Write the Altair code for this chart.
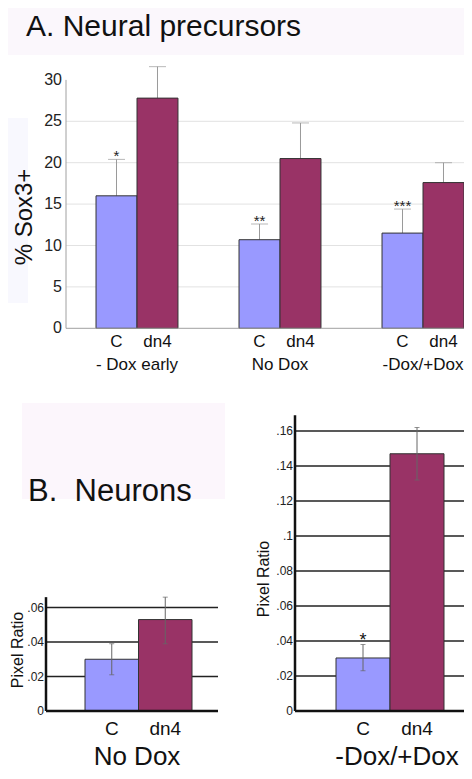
import altair as alt
import pandas as pd

FONT = "Liberation Sans, Arial, Helvetica, sans-serif"

# ---------------- data ----------------
conditions = ["C", "dn4"]
bar_colors = ["#9999ff", "#993366"]

# Panel A: Neural precursors (% Sox3+)
a_groups = ["- Dox early", "No Dox", "-Dox/+Dox"]
a_c_mean = [16.0, 10.7, 11.5]
a_c_err = [20.4, 12.6, 14.4]
a_dn4_mean = [27.8, 20.5, 17.6]
a_dn4_err = [31.6, 24.8, 20.0]
a_sig = ["*", "**", "***"]
a_ticks = [0, 5, 10, 15, 20, 25, 30]
a_grid = [5, 10, 15, 20, 25]

# Panel B: Neurons (pixel ratio)
b1_mean = [0.030, 0.053]
b1_lo = [0.021, 0.039]
b1_hi = [0.039, 0.066]
b1_ticks = [0, 0.02, 0.04, 0.06]
b1_labels = ["0", ".02", ".04", ".06"]

b2_mean = [0.0303, 0.147]
b2_lo = [0.023, 0.132]
b2_hi = [0.038, 0.162]
b2_sig = ["*", ""]
b2_ticks = [0, 0.02, 0.04, 0.06, 0.08, 0.10, 0.12, 0.14, 0.16]
b2_labels = ["0", ".02", ".04", ".06", ".08", ".1", ".12", ".14", ".16"]


def P(v):
    # page pixel -> chart pixel (8px page margin, zero padding)
    return v - 8


# ---------------- tables ----------------
a_df = pd.DataFrame({
    "group": a_groups * 2,
    "cond": ["C"] * 3 + ["dn4"] * 3,
    "mean": a_c_mean + a_dn4_mean,
    "err": a_c_err + a_dn4_err,
    "sig": a_sig + [""] * 3,
})
a_tick_df = pd.DataFrame({"v": a_ticks, "lab": [str(t) for t in a_ticks]})
a_grid_df = pd.DataFrame({"v": a_grid})
a_axis_df = pd.DataFrame({"lo": [0], "hi": [30]})

b1_df = pd.DataFrame({"cond": conditions, "mean": b1_mean, "lo": b1_lo, "hi": b1_hi})
b1_tick_df = pd.DataFrame({"v": b1_ticks, "lab": b1_labels})
b2_df = pd.DataFrame({"cond": conditions, "mean": b2_mean, "lo": b2_lo, "hi": b2_hi, "sig": b2_sig})
b2_tick_df = pd.DataFrame({"v": b2_ticks, "lab": b2_labels})

color = alt.Color("cond:N", scale=alt.Scale(domain=conditions, range=bar_colors), legend=None)

# ---------------- panel A ----------------
ya = alt.Scale(domain=[0, 30], range=[P(328.3), P(79.9)], nice=False, zero=True)
xa = alt.Scale(domain=a_groups, range=[P(65.5), P(494.5)], paddingInner=0.427, paddingOuter=0.2135)
xoff = alt.Scale(domain=conditions, paddingInner=0, paddingOuter=0)

X_A = alt.X("group:N", scale=xa, axis=None, sort=a_groups)
XO_A = alt.XOffset("cond:N", scale=xoff, sort=conditions)

a_grid_l = alt.Chart(a_grid_df).mark_rule(color="#e2e2e2", strokeWidth=1).encode(
    y=alt.Y("v:Q", scale=ya, axis=None), x=alt.value(P(66)), x2=alt.value(P(472)))
a_vaxis = alt.Chart(a_axis_df).mark_rule(color="#a0a0a0", strokeWidth=1).encode(
    y=alt.Y("lo:Q", scale=ya, axis=None), y2="hi:Q", x=alt.value(P(66)))
a_haxis = alt.Chart(a_axis_df).mark_rule(color="#a0a0a0", strokeWidth=1).encode(
    y=alt.Y("lo:Q", scale=ya, axis=None), x=alt.value(P(66)), x2=alt.value(P(472)))
a_labels = alt.Chart(a_tick_df).mark_text(align="right", baseline="middle", fontSize=16,
                                          color="#222", font=FONT).encode(
    y=alt.Y("v:Q", scale=ya, axis=None), x=alt.value(P(62)), text="lab:N")
a_err = alt.Chart(a_df).mark_rule(color="#9a9a9a", strokeWidth=1).encode(
    x=X_A, xOffset=XO_A, y=alt.Y("mean:Q", scale=ya, axis=None), y2="err:Q")
a_cap = alt.Chart(a_df).mark_tick(orient="horizontal", size=17, thickness=1, color="#9a9a9a").encode(
    x=X_A, xOffset=XO_A, y=alt.Y("err:Q", scale=ya, axis=None))
a_bars = alt.Chart(a_df).mark_bar(stroke="#333", strokeWidth=1).encode(
    x=X_A, xOffset=XO_A, y=alt.Y("mean:Q", scale=ya, axis=None), color=color)
a_star = alt.Chart(a_df).mark_text(fontSize=15, baseline="alphabetic", dy=2, color="#222",
                                   font=FONT).encode(
    x=X_A, xOffset=XO_A, y=alt.Y("err:Q", scale=ya, axis=None), text="sig:N")
a_cond = alt.Chart(a_df).mark_text(fontSize=17, baseline="alphabetic", color="#111", font=FONT).encode(
    x=X_A, xOffset=XO_A, y=alt.value(P(347)), text="cond:N")
a_grp = alt.Chart(a_df[a_df["cond"] == "C"]).mark_text(fontSize=17, baseline="alphabetic",
                                                       color="#111", font=FONT).encode(
    x=X_A, y=alt.value(P(370)), text="group:N")

panelA = alt.layer(a_grid_l, a_err, a_cap, a_bars, a_vaxis, a_haxis, a_labels, a_star, a_cond, a_grp)

# ---------------- panel B, No Dox ----------------
yb1 = alt.Scale(domain=[0, 0.066], range=[P(711), P(711 - 0.066 * 1725)], nice=False)
xb1 = alt.Scale(domain=conditions, range=[P(85), P(192)], paddingInner=0, paddingOuter=0)
X_B1 = alt.X("cond:N", scale=xb1, axis=None, sort=conditions)
b1_axis_df = pd.DataFrame({"lo": [0], "hi": [0.066]})

b1_grid = alt.Chart(b1_tick_df[b1_tick_df["v"] > 0]).mark_rule(color="#222", strokeWidth=1.5).encode(
    y=alt.Y("v:Q", scale=yb1, axis=None), x=alt.value(P(46)), x2=alt.value(P(218)))
b1_bars = alt.Chart(b1_df).mark_bar(stroke="#333", strokeWidth=1).encode(
    x=X_B1, y=alt.Y("mean:Q", scale=yb1, axis=None), color=color)
b1_err = alt.Chart(b1_df).mark_rule(color="#666", strokeWidth=1).encode(
    x=X_B1, y=alt.Y("lo:Q", scale=yb1, axis=None), y2="hi:Q")
b1_cap_hi = alt.Chart(b1_df).mark_tick(orient="horizontal", size=5, thickness=1, color="#666").encode(
    x=X_B1, y=alt.Y("hi:Q", scale=yb1, axis=None))
b1_cap_lo = alt.Chart(b1_df).mark_tick(orient="horizontal", size=5, thickness=1, color="#666").encode(
    x=X_B1, y=alt.Y("lo:Q", scale=yb1, axis=None))
b1_vaxis = alt.Chart(b1_axis_df).mark_rule(color="#111", strokeWidth=2.5).encode(
    y=alt.Y("lo:Q", scale=yb1, axis=None), y2="hi:Q", x=alt.value(P(46)))
b1_haxis = alt.Chart(b1_axis_df).mark_rule(color="#111", strokeWidth=2.5).encode(
    y=alt.Y("lo:Q", scale=yb1, axis=None), x=alt.value(P(46)), x2=alt.value(P(218)))
b1_labels = alt.Chart(b1_tick_df).mark_text(align="right", baseline="middle", fontSize=12,
                                            color="#222", font=FONT).encode(
    y=alt.Y("v:Q", scale=yb1, axis=None), x=alt.value(P(44)), text="lab:N")
b1_cond = alt.Chart(b1_df).mark_text(fontSize=19, baseline="alphabetic", color="#111", font=FONT).encode(
    x=X_B1, y=alt.value(P(735)), text="cond:N")

panelB1 = alt.layer(b1_grid, b1_bars, b1_err, b1_cap_hi, b1_cap_lo, b1_vaxis, b1_haxis, b1_labels, b1_cond)

# ---------------- panel B, -Dox/+Dox ----------------
yb2 = alt.Scale(domain=[0, 0.169], range=[P(711), P(711 - 0.169 * 1750)], nice=False)
xb2 = alt.Scale(domain=conditions, range=[P(336), P(444)], paddingInner=0, paddingOuter=0)
X_B2 = alt.X("cond:N", scale=xb2, axis=None, sort=conditions)
b2_axis_df = pd.DataFrame({"lo": [0], "hi": [0.169]})

b2_grid = alt.Chart(b2_tick_df[b2_tick_df["v"] > 0]).mark_rule(color="#222", strokeWidth=1.5).encode(
    y=alt.Y("v:Q", scale=yb2, axis=None), x=alt.value(P(295)), x2=alt.value(P(472)))
b2_bars = alt.Chart(b2_df).mark_bar(stroke="#333", strokeWidth=1).encode(
    x=X_B2, y=alt.Y("mean:Q", scale=yb2, axis=None), color=color)
b2_err = alt.Chart(b2_df).mark_rule(color="#666", strokeWidth=1).encode(
    x=X_B2, y=alt.Y("lo:Q", scale=yb2, axis=None), y2="hi:Q")
b2_cap_hi = alt.Chart(b2_df).mark_tick(orient="horizontal", size=5, thickness=1, color="#666").encode(
    x=X_B2, y=alt.Y("hi:Q", scale=yb2, axis=None))
b2_cap_lo = alt.Chart(b2_df).mark_tick(orient="horizontal", size=5, thickness=1, color="#666").encode(
    x=X_B2, y=alt.Y("lo:Q", scale=yb2, axis=None))
b2_vaxis = alt.Chart(b2_axis_df).mark_rule(color="#111", strokeWidth=2.5).encode(
    y=alt.Y("lo:Q", scale=yb2, axis=None), y2="hi:Q", x=alt.value(P(295)))
b2_haxis = alt.Chart(b2_axis_df).mark_rule(color="#111", strokeWidth=2.5).encode(
    y=alt.Y("lo:Q", scale=yb2, axis=None), x=alt.value(P(295)), x2=alt.value(P(472)))
b2_labels = alt.Chart(b2_tick_df).mark_text(align="right", baseline="middle", fontSize=12,
                                            color="#222", font=FONT).encode(
    y=alt.Y("v:Q", scale=yb2, axis=None), x=alt.value(P(293)), text="lab:N")
b2_star = alt.Chart(b2_df).mark_text(fontSize=18, baseline="alphabetic", dy=1, color="#111",
                                     font=FONT).encode(
    x=X_B2, y=alt.Y("hi:Q", scale=yb2, axis=None), text="sig:N")
b2_cond = alt.Chart(b2_df).mark_text(fontSize=19, baseline="alphabetic", color="#111", font=FONT).encode(
    x=X_B2, y=alt.value(P(735)), text="cond:N")

panelB2 = alt.layer(b2_grid, b2_bars, b2_err, b2_cap_hi, b2_cap_lo, b2_vaxis, b2_haxis,
                    b2_labels, b2_star, b2_cond)

# ---------------- backgrounds and titles ----------------
one = pd.DataFrame({"k": [0]})


def bg(x1, x2, y1, y2, fill):
    return alt.Chart(one).mark_rect(fill=fill).encode(
        x=alt.value(P(x1)), x2=alt.value(P(x2)), y=alt.value(P(y1)), y2=alt.value(P(y2)))


def label(txt, x, y, size, align="center", angle=0, baseline="alphabetic"):
    return alt.Chart(one).mark_text(text=txt, fontSize=size, align=align, angle=angle,
                                    baseline=baseline, color="#111", font=FONT).encode(
        x=alt.value(P(x)), y=alt.value(P(y)))


backgrounds = alt.layer(
    bg(8, 472, 8, 55, "#fbf7fc"),
    bg(7, 28, 118, 303, "#f8f8fe"),
    bg(22, 225, 403, 499, "#fcf6fc"),
)

titles = alt.layer(
    label("A. Neural precursors", 26, 35.5, 30, align="left"),
    label("% Sox3+", 25, 217, 24, angle=270, baseline="middle"),
    label("B.\u00a0 Neurons", 28, 501, 31, align="left"),
    label("Pixel Ratio", 18, 650, 16, angle=270, baseline="middle"),
    label("Pixel Ratio", 264, 579, 16, angle=270, baseline="middle"),
    label("No Dox", 137, 765, 26),
    label("-Dox/+Dox", 397, 765, 26),
)

chart = alt.layer(backgrounds, panelA, panelB1, panelB2, titles).resolve_scale(
    x="independent", y="independent"
).properties(
    width=456, height=763, padding=0, autosize="none", background="white"
).configure_view(stroke=None)

chart.save("out.html", embed_options={"renderer": "svg", "actions": False})
